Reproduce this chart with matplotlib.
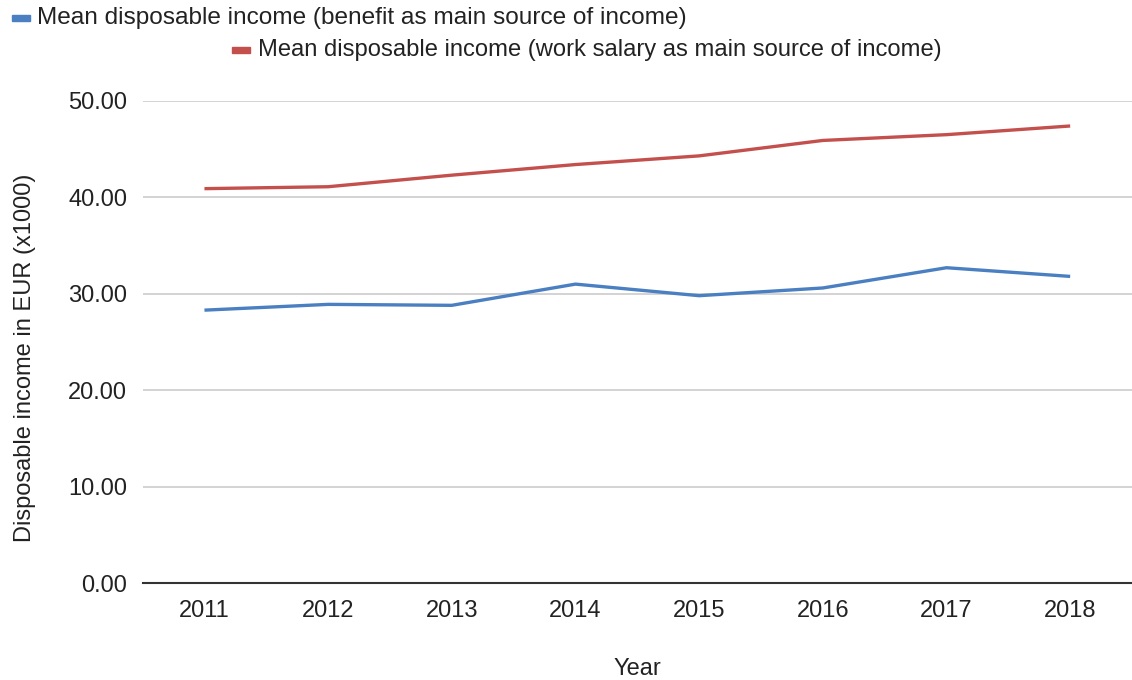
import matplotlib.pyplot as plt
from matplotlib.patches import Rectangle

plt.rcParams['font.family'] = ['Liberation Sans', 'DejaVu Sans']

years = ["2011", "2012", "2013", "2014", "2015", "2016", "2017", "2018"]
benefit = [28.3, 28.9, 28.8, 31.0, 29.8, 30.6, 32.7, 31.8]
salary = [40.9, 41.1, 42.3, 43.4, 44.3, 45.9, 46.5, 47.4]
yticks = [0, 10, 20, 30, 40, 50]

blue = "#4a7fc1"
red = "#c4504d"
fs = 17

fig = plt.figure(figsize=(11.32, 6.8), dpi=100)
ax = fig.add_axes([0.126, 0.1426, 0.874, 0.709])

x = range(len(years))
ax.plot(x, benefit, color=blue, lw=2.4, solid_capstyle="butt")
ax.plot(x, salary, color=red, lw=2.4, solid_capstyle="butt")

ax.set_xlim(-0.5, len(years) - 0.5)
ax.set_ylim(0, 50)
ax.set_xticks(list(x))
ax.set_xticklabels(years)
ax.set_yticks(yticks)
ax.set_yticklabels([f"{v:.2f}" for v in yticks])
ax.tick_params(length=0, labelsize=fs, colors="#222222")
ax.tick_params(axis="x", pad=12)
ax.tick_params(axis="y", pad=11)
ax.grid(axis="y", color="#cccccc", lw=1.2)
ax.set_axisbelow(True)
for s in ["top", "right", "left"]:
    ax.spines[s].set_visible(False)
ax.spines["bottom"].set_color("#333333")
ax.spines["bottom"].set_linewidth(1.5)

ax.set_xlabel("Year", fontsize=fs, labelpad=26, color="#222222")
ax.set_ylabel("Disposable income in EUR (x1000)", fontsize=fs, color="#222222")
ax.yaxis.set_label_coords(-0.108, 0.467)

# legend, staggered on two lines
fig.patches.append(Rectangle((12 / 1132, 1 - 21 / 680), 18 / 1132, 6 / 680,
                             transform=fig.transFigure, color=blue))
fig.text(37 / 1132, 1 - 18 / 680, "Mean disposable income (benefit as main source of income)",
         fontsize=17.6, va="center", color="#222222")
fig.patches.append(Rectangle((232 / 1132, 1 - 53 / 680), 18 / 1132, 6 / 680,
                             transform=fig.transFigure, color=red))
fig.text(258 / 1132, 1 - 50 / 680, "Mean disposable income (work salary as main source of income)",
         fontsize=17.1, va="center", color="#222222")

fig.savefig("out.png", dpi=100)
